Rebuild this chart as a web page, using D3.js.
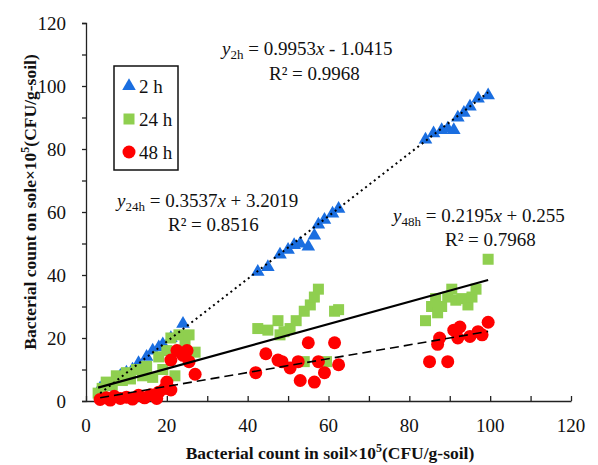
<!DOCTYPE html>
<html><head><meta charset="utf-8">
<script src="https://cdn.jsdelivr.net/npm/d3@7"></script>
<style>body{margin:0;background:#fff}svg{display:block}text{font-family:"Liberation Serif","Times New Roman",serif;fill:#111}</style>
</head><body><svg id="c" width="598" height="465"></svg>
<script>
// ---- data ----
const x2h = [3.5,5,7,8.5,10,11.5,13,15,16.5,18,19,21,24, 42.5,45,48,50,51.5,53,55,56.5,57.5,59,61,62.5, 84,86,88,89.5,91,92,93.5,95,97,99.5];
const y2h = [4,4.5,6.5,8,9,10,12,14,16,17,18,20,24.5, 41,42.5,46.5,48,49.5,50,49,52.5,56,57.5,59.5,61, 83,85,86,86.5,86,90,91.5,93.5,96,97];
const x24h = [3,4,5,6.5,7.5,9,10,11,12.5,14,15,16.5,18,19,20,21,22,23,24.5,25.5,27, 42.5,45,47.5,48,49,50.5,52,54,55.5,56.5,57.5,61.5,62.5,54,59.5, 84,85.5,86.5,87,88,89.5,90.5,91.5,93,94.5,95.5,96.5,99.5];
const y24h = [2.5,4,6,5,8,6.5,9,7,10,8,11,7.5,14,10,16,20,8,21,19,21,15.5, 23,22.5,25.5,21,22,23,25.5,28.5,30.5,33,35.5,28.5,29,12.5,12.5, 25.5,30,32.5,28,30,33,35.5,32,32.5,30.5,33,35.5,45];
const x48h = [3.5,5,6,7,8.5,10,11.5,13,14.5,16,17.5,18,19.5,20,21,21,22.5,24,25,25.5,27, 42,44.5,47.5,48.5,50.5,52.5,53,55,56.5,57.5,59,61.5,62.5, 85,87,87.5,89.5,91,92,92.5,95,97,98,99.5];
const y48h = [0.5,1,0.3,1.5,0.8,1.2,0.6,1.8,1,2,0.8,2.8,4,6,3.5,13,16,14.5,16,12.5,8.5, 9,15,13,12.5,10.5,12.5,6.5,18.5,6,12.5,9,18.5,11.5, 12.5,18,20,12.5,22.5,20,23.5,20.5,22,21,25];
const series = ["2 h","24 h","48 h"];
const slopes = [0.9953,0.3537,0.2195];
const intercepts = [-1.0415,3.2019,0.255];
const eqSub = ["2h","24h","48h"];
const eqText = [" = 0.9953"," = 0.3537"," = 0.2195"];
const eqTail = [" - 1.0415"," + 3.2019"," + 0.255"];
const r2Text = ["R² = 0.9968","R² = 0.8516","R² = 0.7968"];
const xTicks = [0,20,40,60,80,100,120];
const yTicks = [0,20,40,60,80,100,120];

// ---- layout ----
const svg = d3.select("#c");
const x = d3.scaleLinear().domain([0,120]).range([86,571]);
const y = d3.scaleLinear().domain([0,120]).range([401,23]);
const colors = ["#1a6ee0","#8fcf4f","#ff0000"];

// axes
const yAxis = d3.axisLeft(y).tickValues(d3.range(0,121,10)).tickSize(4).tickFormat("");
svg.append("g").attr("transform","translate(86,0)").call(yAxis)
  .call(g=>{g.select(".domain").attr("stroke","#222").attr("stroke-width",1.3);g.selectAll("line").attr("stroke","#222").attr("stroke-width",1.3);});
const xAxis = d3.axisBottom(x).tickValues(d3.range(0,121,10)).tickSize(-5).tickSizeOuter(0).tickFormat("");
svg.append("g").attr("transform","translate(0,401)").call(xAxis)
  .call(g=>{g.select(".domain").attr("stroke","#222").attr("stroke-width",1.3);g.selectAll("line").attr("stroke","#222").attr("stroke-width",1.3);});

svg.append("g").selectAll("text").data(yTicks).join("text")
  .attr("x",66).attr("y",d=>y(d)).attr("dy","0.35em").attr("text-anchor","end")
  .attr("font-size",19).text(d=>d);
svg.append("g").selectAll("text").data(xTicks).join("text")
  .attr("x",d=>x(d)).attr("y",432).attr("text-anchor","middle")
  .attr("font-size",19).text(d=>d);

// axis titles
const xt = svg.append("text").attr("x",330).attr("y",459).attr("text-anchor","middle")
  .attr("font-size",17.5).attr("font-weight","bold");
xt.append("tspan").text("Bacterial count in soil×10");
xt.append("tspan").attr("font-size",12).attr("dy",-7).text("5");
xt.append("tspan").attr("dy",7).text("(CFU/g-soil)");
const yt = svg.append("text").attr("transform","translate(36,202) rotate(-90)").attr("text-anchor","middle")
  .attr("font-size",17.5).attr("font-weight","bold");
yt.append("tspan").text("Bacterial count on sole×10");
yt.append("tspan").attr("font-size",12).attr("dy",-7).text("5");
yt.append("tspan").attr("dy",7).text("(CFU/g-soil)");

// markers
const tri = d3.symbol().type(d3.symbolTriangle).size(80);
svg.append("g").selectAll("path").data(x2h.map((d,i)=>[d,y2h[i]])).join("path")
  .attr("d",tri).attr("transform",d=>`translate(${x(d[0])},${y(d[1])})`).attr("fill",colors[0]);
svg.append("g").selectAll("rect").data(x24h.map((d,i)=>[d,y24h[i]])).join("rect")
  .attr("x",d=>x(d[0])-5.5).attr("y",d=>y(d[1])-5.5).attr("width",11).attr("height",11).attr("fill",colors[1]);
svg.append("g").selectAll("circle").data(x48h.map((d,i)=>[d,y48h[i]])).join("circle")
  .attr("cx",d=>x(d[0])).attr("cy",d=>y(d[1])).attr("r",6.5).attr("fill",colors[2]);

// trend lines
const xs = [x2h,x24h,x48h];
const dashes = ["2,3.5",null,"9,5"];
const widths = [2,2.2,1.6];
xs.forEach((arr,i)=>{
  const [a,b] = d3.extent(arr);
  svg.append("line").attr("x1",x(a)).attr("y1",y(slopes[i]*a+intercepts[i]))
    .attr("x2",x(b)).attr("y2",y(slopes[i]*b+intercepts[i]))
    .attr("stroke","#000").attr("stroke-width",widths[i]).attr("stroke-dasharray",dashes[i]);
});

// equations
const eqPos = [[222,55,269,80],[117,207,168,231],[393,222,445,246]];
eqPos.forEach((p,i)=>{
  const t = svg.append("text").attr("x",p[0]).attr("y",p[1]).attr("font-size",19);
  t.append("tspan").attr("font-style","italic").text("y");
  t.append("tspan").attr("font-size",13).attr("dy",4).text(eqSub[i]);
  t.append("tspan").attr("dy",-4).text(eqText[i]);
  t.append("tspan").attr("font-style","italic").text("x");
  t.append("tspan").text(eqTail[i]);
  svg.append("text").attr("x",p[2]).attr("y",p[3]).attr("font-size",19).text(r2Text[i]);
});

// legend
svg.append("rect").attr("x",114).attr("y",66).attr("width",64).attr("height",104)
  .attr("fill","#fff").attr("stroke","#111").attr("stroke-width",1.5);
const ly = [86,119,152];
svg.append("path").attr("d",tri).attr("transform",`translate(129,${ly[0]})`).attr("fill",colors[0]);
svg.append("rect").attr("x",123.5).attr("y",ly[1]-5.5).attr("width",11).attr("height",11).attr("fill",colors[1]);
svg.append("circle").attr("cx",129).attr("cy",ly[2]).attr("r",6.5).attr("fill",colors[2]);
series.forEach((s,i)=>{
  svg.append("text").attr("x",139).attr("y",ly[i]).attr("dy","0.35em").attr("font-size",19).text(s);
});
</script></body></html>
